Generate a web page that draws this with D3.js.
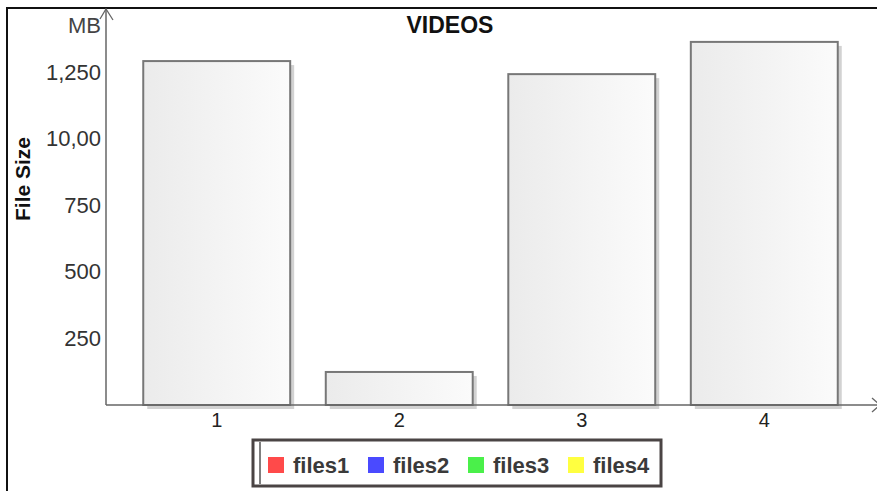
<!DOCTYPE html>
<html>
<head>
<meta charset="utf-8">
<script src="https://cdn.jsdelivr.net/npm/d3@7"></script>
<style>
  body { margin: 0; background: #fff; }
  svg { display: block; font-family: "Liberation Sans", Arial, sans-serif; }
</style>
</head>
<body>
<div id="chart"></div>
<script>
// data
var categories = ["1", "2", "3", "4"]
var fileSizes = [1291, 124, 1242, 1363]
var tickValues = [250, 500, 750, 1000, 1250]
var tickLabels = ["250", "500", "750", "10,00", "1,250"]
var legendNames = ["files1", "files2", "files3", "files4"]
var legendColors = ["#ff4a4a", "#4a4aff", "#4af04a", "#ffff40"]

var width = 877
var height = 491
var axisLeft = 106, axisBottom = 405, axisTop = 72

var svg = d3.select("#chart").append("svg")
  .attr("width", width)
  .attr("height", height)

var defs = svg.append("defs")
var grad = defs.append("linearGradient").attr("id", "barGrad")
  .attr("x1", "0%").attr("x2", "100%").attr("y1", "0%").attr("y2", "0%")
grad.append("stop").attr("offset", "0%").attr("stop-color", "#ebebeb")
grad.append("stop").attr("offset", "100%").attr("stop-color", "#fbfbfb")

// outer frame
svg.append("rect")
  .attr("x", 7).attr("y", 8)
  .attr("width", 920).attr("height", 520)
  .attr("fill", "none").attr("stroke", "#111").attr("stroke-width", 2)

var x = d3.scaleBand()
  .domain(categories)
  .range([125, 856])
  .paddingInner(0.195)
  .paddingOuter(0.1)

var y = d3.scaleLinear()
  .domain([0, 1250])
  .range([axisBottom, axisTop])

// title
svg.append("text")
  .attr("x", 450).attr("y", 33)
  .attr("text-anchor", "middle")
  .attr("font-size", 23).attr("font-weight", "bold")
  .attr("fill", "#111")
  .text("VIDEOS")

// y label
svg.append("text")
  .attr("transform", "translate(30,179) rotate(-90)")
  .attr("text-anchor", "middle")
  .attr("font-size", 21).attr("font-weight", "bold")
  .attr("fill", "#111")
  .text("File Size")

svg.append("text")
  .attr("x", 101).attr("y", 33)
  .attr("text-anchor", "end")
  .attr("font-size", 22)
  .attr("fill", "#444")
  .text("MB")

// bars
var bars = svg.append("g")
bars.selectAll(".shadow")
  .data(fileSizes)
  .enter().append("rect")
  .attr("class", "shadow")
  .attr("x", function(d, i) { return x(categories[i]) + 4 })
  .attr("y", function(d) { return y(d) + 4 })
  .attr("width", x.bandwidth())
  .attr("height", function(d) { return axisBottom - y(d) })
  .attr("fill", "#d2d2d2")

bars.selectAll(".bar")
  .data(fileSizes)
  .enter().append("rect")
  .attr("class", "bar")
  .attr("x", function(d, i) { return x(categories[i]) })
  .attr("y", function(d) { return y(d) })
  .attr("width", x.bandwidth())
  .attr("height", function(d) { return axisBottom - y(d) })
  .attr("fill", "url(#barGrad)")
  .attr("stroke", "#777")
  .attr("stroke-width", 2)

// y axis
var yAxis = svg.append("g")
  .attr("transform", "translate(" + (axisLeft - 2) + ",0)")
  .call(d3.axisLeft(y)
    .tickValues(tickValues)
    .tickSize(0)
    .tickPadding(3)
    .tickFormat(function(d, i) { return tickLabels[i] }))
yAxis.select(".domain").remove()
yAxis.selectAll("text")
  .attr("font-size", 22)
  .attr("fill", "#333")
  .attr("font-family", "Liberation Sans, Arial, sans-serif")

// x axis
var xAxis = svg.append("g")
  .attr("transform", "translate(0," + axisBottom + ")")
  .call(d3.axisBottom(x).tickSize(0).tickPadding(8))
xAxis.select(".domain").remove()
xAxis.selectAll("text")
  .attr("font-size", 20)
  .attr("fill", "#222")
  .attr("font-family", "Liberation Sans, Arial, sans-serif")

// axis lines with arrows
svg.append("line")
  .attr("x1", axisLeft).attr("y1", axisBottom)
  .attr("x2", axisLeft).attr("y2", 9)
  .attr("stroke", "#666").attr("stroke-width", 1.5)
svg.append("path")
  .attr("d", "M" + (axisLeft - 6) + ",19 L" + axisLeft + ",9 L" + (axisLeft + 7) + ",20")
  .attr("fill", "none").attr("stroke", "#666").attr("stroke-width", 1.3)

svg.append("line")
  .attr("x1", axisLeft).attr("y1", axisBottom)
  .attr("x2", 877).attr("y2", axisBottom)
  .attr("stroke", "#666").attr("stroke-width", 1.5)
svg.append("path")
  .attr("d", "M872,398 L880," + axisBottom + " L872,412")
  .attr("fill", "none").attr("stroke", "#666").attr("stroke-width", 1.3)

// legend
var legend = svg.append("g").attr("transform", "translate(253,440)")
legend.append("rect")
  .attr("width", 408).attr("height", 46)
  .attr("fill", "#fff")
  .attr("stroke", "#4a4444").attr("stroke-width", 3)
legend.append("line")
  .attr("x1", 7).attr("y1", 2).attr("x2", 7).attr("y2", 44)
  .attr("stroke", "#555").attr("stroke-width", 1.5)

var item = legend.selectAll(".item")
  .data(legendNames)
  .enter().append("g")
  .attr("class", "item")
  .attr("transform", function(d, i) { return "translate(" + (15 + i * 100) + ",0)" })
item.append("rect")
  .attr("y", 17).attr("width", 16).attr("height", 16)
  .attr("fill", function(d, i) { return legendColors[i] })
item.append("text")
  .attr("x", 25).attr("y", 33)
  .attr("font-size", 22).attr("font-weight", "bold")
  .attr("fill", "#3a3a3a")
  .text(function(d) { return d })
</script>
</body>
</html>
